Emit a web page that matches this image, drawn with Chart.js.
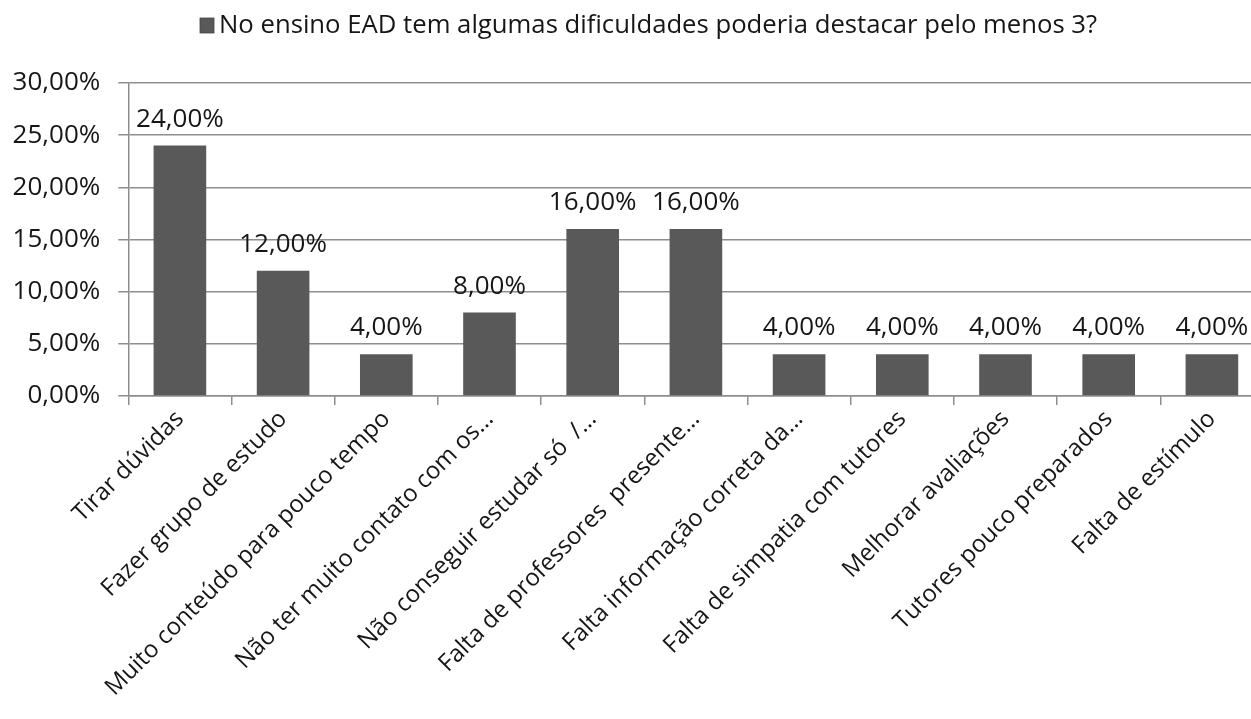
<!DOCTYPE html>
<html>
<head>
<meta charset="utf-8">
<script src="https://cdn.jsdelivr.net/npm/chart.js@4.4.1/dist/chart.umd.min.js"></script>
<style>
  html, body { margin: 0; padding: 0; background: #ffffff; overflow: hidden; }
  #wrap { width: 1270px; height: 719px; position: relative; }
</style>
</head>
<body>
<div id="wrap"><canvas id="c"></canvas></div>
<script>
const seriesName = 'No ensino EAD tem algumas dificuldades poderia destacar pelo menos 3?';
const categories = [
  'Tirar dúvidas',
  'Fazer grupo de estudo',
  'Muito conteúdo para pouco tempo',
  'Não ter muito contato com os…',
  'Não conseguir estudar só  /…',
  'Falta de professores  presente…',
  'Falta informação correta da…',
  'Falta de simpatia com tutores',
  'Melhorar avaliações',
  'Tutores pouco preparados',
  'Falta de estímulo'
];
const values = [24, 12, 4, 8, 16, 16, 4, 4, 4, 4, 4];
const yTicks = [0, 5, 10, 15, 20, 25, 30];

const FONT = '"Open Sans", "DejaVu Sans", sans-serif';
const TEXT = '#161616';
const BAR = '#595959';
const GRID = '#8e8e8e';

function pct(v) { return v.toFixed(2).replace('.', ',') + '%'; }

const dataLabels = {
  id: 'dataLabels',
  afterDatasetsDraw(chart) {
    const ctx = chart.ctx;
    const meta = chart.getDatasetMeta(0);
    ctx.save();
    ctx.font = '26px ' + FONT;
    ctx.fillStyle = TEXT;
    ctx.textAlign = 'center';
    ctx.textBaseline = 'alphabetic';
    meta.data.forEach((bar, i) => {
      ctx.fillText(pct(values[i]), bar.x, bar.y - 19);
    });
    ctx.restore();
  }
};

const topLegend = {
  id: 'topLegend',
  afterDraw(chart) {
    const ctx = chart.ctx;
    ctx.save();
    ctx.fillStyle = BAR;
    ctx.fillRect(200, 18, 14, 15);
    ctx.strokeStyle = '#444';
    ctx.lineWidth = 0.8;
    ctx.strokeRect(200, 18, 14, 15);
    ctx.font = '25.7px ' + FONT;
    ctx.fillStyle = TEXT;
    ctx.textAlign = 'left';
    ctx.textBaseline = 'middle';
    ctx.fillText(seriesName, 219, 26);
    ctx.restore();
  }
};

new Chart(document.getElementById('c'), {
  type: 'bar',
  data: {
    labels: categories,
    datasets: [{
      label: seriesName,
      data: values,
      backgroundColor: BAR,
      borderWidth: 0,
      categoryPercentage: 1.0,
      barPercentage: 0.51
    }]
  },
  options: {
    responsive: true,
    maintainAspectRatio: false,
    animation: false,
    events: [],
    layout: { padding: { top: 83, left: 0, right: 6.5, bottom: 0 } },
    plugins: {
      legend: { display: false },
      tooltip: { enabled: false }
    },
    scales: {
      x: {
        offset: true,
        grid: {
          display: true,
          offset: true,
          drawOnChartArea: false,
          drawTicks: true,
          tickLength: 9,
          color: GRID,
          lineWidth: 1.5
        },
        border: { display: true, color: GRID, width: 1.5 },
        ticks: {
          autoSkip: false,
          maxRotation: 45,
          minRotation: 45,
          padding: 0,
          color: TEXT,
          font: { family: FONT, size: 24 }
        },
        afterFit(scale) { scale.height = 323; }
      },
      y: {
        min: 0,
        max: 30,
        afterBuildTicks(scale) { scale.ticks = yTicks.map(v => ({ value: v })); },
        grid: {
          color: GRID,
          lineWidth: 1.5,
          drawTicks: true,
          tickLength: 10
        },
        border: { display: true, color: GRID, width: 1.5 },
        ticks: {
          padding: 18,
          color: TEXT,
          font: { family: FONT, size: 26 },
          callback: (v) => pct(v)
        },
        afterFit(scale) { scale.width = 128.3; }
      }
    }
  },
  plugins: [dataLabels, topLegend]
});
</script>
</body>
</html>
